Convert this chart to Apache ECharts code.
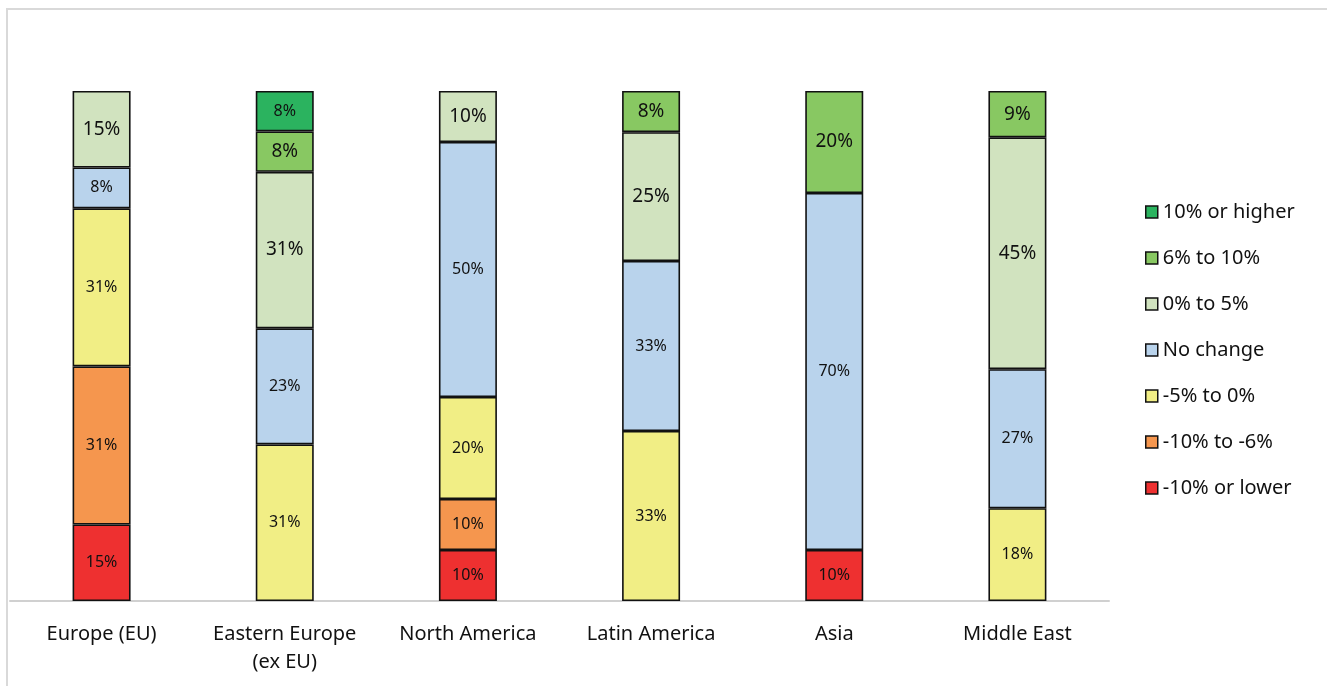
<!DOCTYPE html>
<html>
<head>
<meta charset="utf-8">
<script src="https://cdn.jsdelivr.net/npm/echarts@6/dist/echarts.min.js"></script>
<style>
html,body{margin:0;padding:0;background:#fff;}
#chart{width:1327px;height:686px;}
</style>
</head>
<body>
<div id="chart"></div>
<script>
const categories = ['Europe (EU)', 'Eastern Europe\n(ex EU)', 'North America', 'Latin America', 'Asia', 'Middle East'];
const seriesNames = ['-10% or lower', '-10% to -6%', '-5% to 0%', 'No change', '0% to 5%', '6% to 10%', '10% or higher'];
const lower10 = [15, 0, 10, 0, 10, 0];
const minus10to6 = [31, 0, 10, 0, 0, 0];
const minus5to0 = [31, 31, 20, 33, 0, 18];
const noChange = [8, 23, 50, 33, 70, 27];
const zeroTo5 = [15, 31, 10, 25, 0, 45];
const sixTo10 = [0, 8, 0, 8, 20, 9];
const higher10 = [0, 8, 0, 0, 0, 0];

const seriesValues = [lower10, minus10to6, minus5to0, noChange, zeroTo5, sixTo10, higher10];
const colors = ['#EE3030', '#F5964E', '#F1EE85', '#B9D3EC', '#D1E3BF', '#88C862', '#2BB35F'];
const labelSizes = [16, 16, 16, 16, 19, 19, 16];
const font = '"Noto Sans", "Open Sans", sans-serif';

// each stacked bar is shown as a 100% bar (shares of its own total)
const totals = categories.map((c, i) => seriesValues.reduce((s, arr) => s + arr[i], 0));

const series = seriesNames.map((name, si) => ({
  name: name,
  type: 'bar',
  stack: 'total',
  barWidth: 58,
  data: seriesValues[si].map((v, i) => v > 0 ? { value: v / totals[i] * 100, raw: v } : null),
  itemStyle: { color: colors[si], borderColor: '#111', borderWidth: 1.6 },
  label: {
    show: true,
    position: 'inside',
    fontFamily: font,
    fontSize: labelSizes[si],
    color: '#111',
    formatter: p => p.data && p.data.raw ? p.data.raw + '%' : ''
  },
  emphasis: { disabled: true }
}));

const chart = echarts.init(document.getElementById('chart'), null, { renderer: 'canvas' });
chart.setOption({
  animation: false,
  backgroundColor: '#fff',
  graphic: [{
    type: 'rect',
    shape: { x: 7, y: 9, width: 1400, height: 760 },
    style: { fill: 'none', stroke: '#d9d9d9', lineWidth: 2 },
    silent: true, z: -1
  }],
  grid: { left: 10, right: 218, top: 91, bottom: 85 },
  legend: {
    orient: 'vertical',
    left: 1145,
    top: 202,
    padding: 0,
    itemWidth: 12,
    itemHeight: 12,
    itemGap: 26,
    icon: 'rect',
    data: seriesNames.slice().reverse(),
    itemStyle: { borderColor: '#111', borderWidth: 1.5 },
    textStyle: { fontFamily: font, fontSize: 20, color: '#111', lineHeight: 20 }
  },
  xAxis: {
    type: 'category',
    data: categories,
    axisLine: { lineStyle: { color: '#d0d0d0', width: 2 } },
    axisTick: { show: false },
    axisLabel: { fontFamily: font, fontSize: 20, color: '#111', margin: 19, lineHeight: 28, interval: 0 }
  },
  yAxis: {
    type: 'value',
    min: 0,
    max: 100,
    show: false,
    splitLine: { show: false }
  },
  series: series
});
</script>
</body>
</html>
